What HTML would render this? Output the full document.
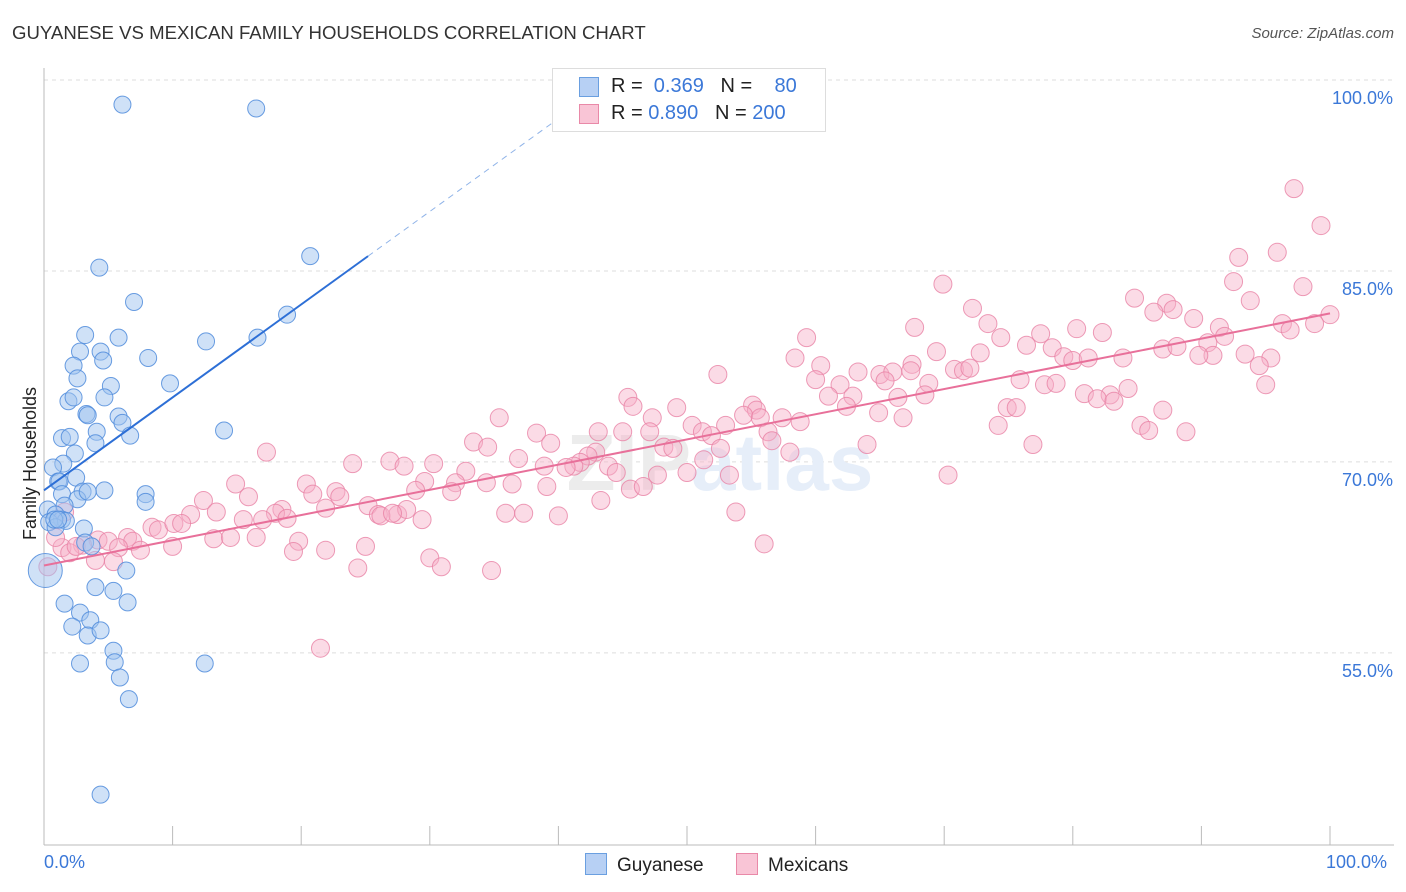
<!DOCTYPE html>
<html><head><meta charset="utf-8">
<style>
body{margin:0;background:#fff;font-family:"Liberation Sans",sans-serif;}
#wrap{position:relative;width:1406px;height:892px;overflow:hidden;}
.t{position:absolute;white-space:nowrap;}
</style></head>
<body>
<div id="wrap">
<div class="t" style="left:12px;top:22px;font-size:18.6px;color:#333;">GUYANESE VS MEXICAN FAMILY HOUSEHOLDS CORRELATION CHART</div>
<div class="t" style="right:12px;top:25px;font-size:15px;color:#555;font-style:italic;">Source: ZipAtlas.com</div>
<svg id="svg" width="1406" height="892" style="position:absolute;left:0;top:0;"></svg>
</div>
<script>
const blueX=[6.1,16.5,4.3,20.7,7.0,18.9,3.2,5.8,16.6,12.6,2.8,4.4,4.6,8.1,2.3,2.6,5.2,9.8,1.9,2.3,4.7,3.3,3.4,5.8,6.1,4.1,6.7,14.0,1.4,2.0,4.0,2.4,1.5,0.7,2.5,1.1,1.2,3.0,4.7,7.9,7.9,1.4,2.6,1.6,0.3,0.9,1.4,1.7,0.4,3.1,3.2,3.7,0.1,4.0,5.4,6.4,1.6,6.5,2.8,3.6,2.2,3.4,4.4,5.4,5.5,2.8,12.5,5.9,6.6,4.4,0.9,3.4,0.8,1.1];
const blueY=[99.4,99.1,86.6,87.5,83.9,82.9,81.3,81.1,81.1,80.8,80.0,80.0,79.3,79.5,78.9,77.9,77.3,77.5,76.1,76.4,76.4,75.1,75.0,74.9,74.4,73.7,73.4,73.8,73.2,73.3,72.8,72.0,71.2,70.9,70.1,69.8,69.8,69.0,69.1,68.8,68.2,68.8,68.4,67.9,67.6,67.2,66.8,66.7,66.6,66.1,65.0,64.7,62.8,61.5,61.2,62.8,60.2,60.3,59.5,58.9,58.4,57.7,58.1,56.5,55.6,55.5,55.5,54.4,52.7,45.2,66.2,69.0,66.8,66.8];
const pinkX=[97.2,99.3,95.9,92.9,69.9,92.5,97.9,84.8,93.8,72.2,87.3,87.8,86.3,89.4,100.0,98.8,96.3,96.9,67.7,73.4,80.3,82.3,91.4,91.8,59.3,74.4,77.5,76.4,87.0,88.1,90.5,78.4,69.4,72.8,79.3,83.9,90.9,93.4,95.4,58.4,60.4,67.5,80.0,81.2,89.8,94.5,63.3,65.0,66.0,67.4,70.8,71.5,72.0,52.4,60.0,61.9,65.4,68.8,75.9,77.8,78.7,95.0,84.3,80.9,82.9,81.9,83.2,61.0,62.9,62.4,66.4,68.5,55.1,55.4,45.4,45.8,47.3,49.2,54.4,55.7,64.9,66.8,74.9,75.6,87.0,35.4,57.4,58.8,53.0,50.4,51.2,51.9,56.3,43.1,45.0,47.1,85.3,85.9,88.8,74.2,38.3,33.4,34.5,39.4,48.2,48.9,76.9,56.6,64.0,52.6,58.0,42.9,42.3,41.7,51.3,36.9,41.2,40.6,38.9,43.9,44.5,47.7,50.0,17.3,24.0,26.9,28.0,30.3,32.8,29.6,34.4,32.0,36.4,39.1,45.6,53.3,70.3,20.4,22.7,23.0,20.9,28.9,31.7,14.9,12.4,15.9,11.4,13.4,18.5,18.0,21.9,25.2,26.0,27.5,28.2,29.4,43.3,46.6,35.9,37.3,40.0,53.8,8.4,8.9,10.1,10.7,15.5,17.0,18.9,26.2,27.1,4.2,5.0,6.5,6.9,3.0,13.2,14.5,16.5,19.8,1.4,2.0,2.5,5.8,7.5,10.0,4.0,5.4,19.4,21.9,25.0,30.0,24.4,30.9,34.8,21.5,0.9,1.6,56.0,0.3];
const pinkY=[92.8,89.9,87.8,87.4,85.3,85.5,85.1,84.2,84.0,83.4,83.8,83.3,83.1,82.6,82.9,82.2,82.2,81.7,81.9,82.2,81.8,81.5,81.9,81.2,81.1,81.1,81.4,80.5,80.2,80.4,80.7,80.3,80.0,79.9,79.6,79.5,79.7,79.8,79.5,79.5,78.9,79.0,79.3,79.5,79.7,78.9,78.4,78.2,78.4,78.5,78.6,78.5,78.7,78.2,77.8,77.4,77.7,77.5,77.8,77.4,77.5,77.4,77.1,76.7,76.6,76.3,76.1,76.5,76.5,75.7,76.4,76.6,75.8,75.4,76.4,75.7,74.8,75.6,75.0,74.8,75.2,74.8,75.6,75.6,75.4,74.8,74.8,74.5,74.2,74.2,73.7,73.4,73.7,73.7,73.7,73.7,74.2,73.8,73.7,74.2,73.6,72.9,72.5,72.8,72.5,72.4,72.7,73.0,72.7,72.4,72.1,72.1,71.8,71.3,71.5,71.6,71.0,70.9,71.0,71.0,70.5,70.3,70.5,72.1,71.2,71.4,71.0,71.2,70.6,69.8,69.7,69.7,69.6,69.4,69.2,70.3,70.3,69.6,69.0,68.6,68.8,69.1,69.0,69.6,68.3,68.6,67.2,67.4,67.6,67.3,67.7,67.9,67.2,67.2,67.6,66.8,68.3,69.4,67.3,67.3,67.1,67.4,66.2,66.0,66.5,66.5,66.8,66.8,66.9,67.1,67.3,65.2,65.1,65.4,65.1,64.8,65.3,65.4,65.4,65.1,64.6,64.2,64.7,64.6,64.4,64.7,63.6,63.5,64.3,64.4,64.7,63.8,63.0,63.1,62.8,56.7,65.4,67.4,64.9,63.1];
const blueTrend=[69.1,87.5];
const blueTrendEndX=25.2;
const pinkTrend=[63.2,83.0];
const yTicks=[100,85,70,55];
const yTickLabels=["100.0%","85.0%","70.0%","55.0%"];

const X=v=>44+v*12.86;
const Y=v=>97+(100-v)*12.73;
const svg=document.getElementById('svg');
const NS='http://www.w3.org/2000/svg';
function mk(t,a){const e=document.createElementNS(NS,t);for(const k in a)e.setAttribute(k,a[k]);svg.appendChild(e);return e;}

yTicks.forEach((v,i)=>{
  const g=mk('line',{x1:44,x2:1394,y1:Y(v)-17,y2:Y(v)-17,stroke:'#ddd','stroke-dasharray':'4,4'});
  
  
  const t=mk('text',{x:1393,y:Y(v)+7,'text-anchor':'end','font-size':18,fill:'#3b78d8','font-family':'Liberation Sans, sans-serif'});
  t.textContent=yTickLabels[i];
  
  
});
const ax=mk('line',{x1:44,x2:44,y1:68,y2:845,stroke:'#bbb'});


const bx=mk('line',{x1:44,x2:1394,y1:845,y2:845,stroke:'#bbb'});


for(let i=0;i<=10;i++){
  const tk=mk('line',{x1:X(i*10),x2:X(i*10),y1:826,y2:845,stroke:'#bbb'});
  
  
}
const wm=mk('text',{x:720,y:490,'text-anchor':'middle','font-size':80,'font-family':'Liberation Sans, sans-serif'});
wm.innerHTML='<tspan fill="#ececec" font-weight="bold">ZIP</tspan><tspan fill="#e6eef9" font-weight="bold">atlas</tspan>';



pinkX.forEach((x,i)=>{
  const c=mk('circle',{cx:X(x),cy:Y(pinkY[i]),r:9,fill:'rgba(246,176,199,0.45)',stroke:'rgba(232,130,165,0.8)','stroke-width':1});
  
  
});
blueX.forEach((x,i)=>{
  const big=(x<0.5&&blueY[i]<64);
  const c=mk('circle',{cx:X(x),cy:Y(blueY[i]),r:big?17:8.5,fill:'rgba(160,195,240,0.5)',stroke:'rgba(80,140,220,0.85)','stroke-width':1});
  
  
});
const slope=(blueTrend[1]-blueTrend[0])/blueTrendEndX;
const bl=mk('line',{x1:X(0),y1:Y(blueTrend[0]),x2:X(blueTrendEndX),y2:Y(blueTrend[1]),stroke:'#2d6fd6','stroke-width':2});


const dEnd=40.5;
const bd=mk('line',{x1:X(blueTrendEndX),y1:Y(blueTrend[1]),x2:X(dEnd),y2:Y(blueTrend[0]+slope*dEnd),stroke:'#8fb3e8','stroke-width':1,'stroke-dasharray':'6,5'});


const pl=mk('line',{x1:X(0),y1:Y(pinkTrend[0]),x2:X(100),y2:Y(pinkTrend[1]),stroke:'#e8709a','stroke-width':2});


</script>
<div class="t" style="left:20px;top:540px;transform:rotate(-90deg);transform-origin:0 0;font-size:18px;color:#222;">Family Households</div>
<div class="t" style="left:44px;top:852px;font-size:18px;color:#3b78d8;">0.0%</div>
<div class="t" style="left:1326px;top:852px;font-size:18px;color:#3b78d8;">100.0%</div>
<div class="t" style="left:552px;top:68px;width:272px;height:62px;border:1px solid #ddd;background:#fff;font-size:20px;color:#222;">
  <div style="position:absolute;left:26px;top:8px;width:18px;height:18px;background:#b7d0f4;border:1px solid #6a9fe0;"></div>
  <div style="position:absolute;left:58px;top:6px;">R = <span style="color:#3b78d8">&nbsp;0.369</span>&nbsp;&nbsp;&nbsp;N = &nbsp;&nbsp;<span style="color:#3b78d8">&nbsp;80</span></div>
  <div style="position:absolute;left:26px;top:35px;width:18px;height:18px;background:#f9c5d6;border:1px solid #e989a8;"></div>
  <div style="position:absolute;left:58px;top:33px;">R = <span style="color:#3b78d8">0.890</span>&nbsp;&nbsp;&nbsp;N = <span style="color:#3b78d8">200</span></div>
</div>
<div class="t" style="left:585px;top:853px;font-size:19px;color:#222;"><span style="display:inline-block;width:20px;height:20px;background:#b7d0f4;border:1px solid #6a9fe0;vertical-align:-4px;margin-right:10px;"></span>Guyanese</div>
<div class="t" style="left:736px;top:853px;font-size:19px;color:#222;"><span style="display:inline-block;width:20px;height:20px;background:#f9c5d6;border:1px solid #e989a8;vertical-align:-4px;margin-right:10px;"></span>Mexicans</div>
</body></html>
